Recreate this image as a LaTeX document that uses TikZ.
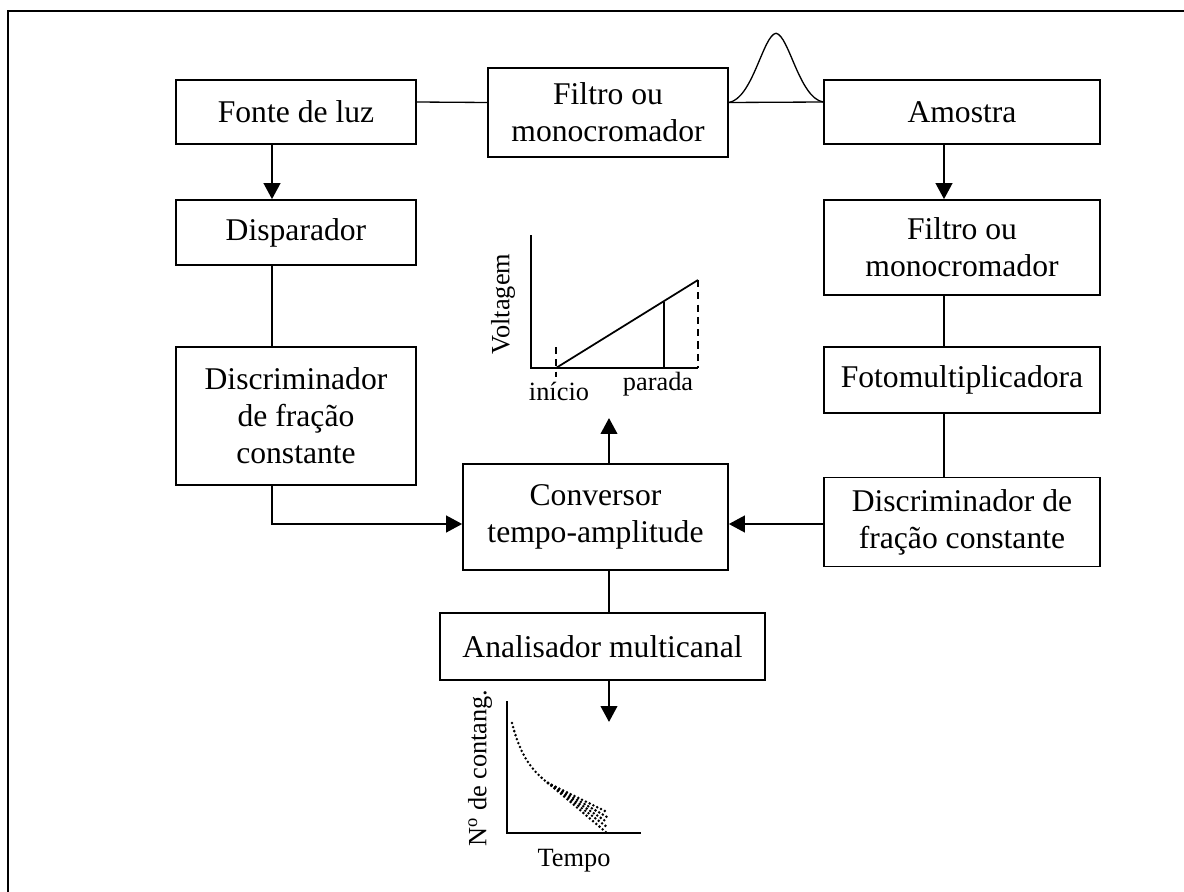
\documentclass[tikz,border=0pt]{standalone}
\usepackage{fontspec}
\setmainfont{Liberation Serif}
\usetikzlibrary{arrows.meta, calc}

\begin{document}
\begin{tikzpicture}[x=0.02cm, y=-0.02cm, >={Triangle[length=3.2mm, width=3.3mm]},
      caixa/.style={draw, line width=0.95pt, align=center, inner sep=2pt,
        font=\fontsize{18}{21}\selectfont},
      linha/.style={line width=0.75pt},
      seta/.style={->, line width=1.4pt},
      eixo/.style={line width=1pt},
      tracejado/.style={line width=1pt, dash pattern=on 4pt off 3pt},
      pontilhado/.style={line width=1.6pt, line cap=round, dash pattern=on 0pt off 2.4pt},
      rotulo/.style={font=\fontsize{15}{17}\selectfont, inner sep=0pt}]
    \useasboundingbox (0,0) rectangle (1184,892);
    \draw[line width=1.2pt] (8,892) -- (8,11) -- (1184,11);
    % caixas
    \node[caixa, minimum width=4.8cm, minimum height=1.28cm] (fonte) at (296,112) {Fonte de luz};
    \node[caixa, minimum width=4.8cm, minimum height=1.78cm] (filtroA) at (608,112.5) {Filtro ou\\ monocromador};
    \node[caixa, minimum width=5.52cm, minimum height=1.28cm] (amostra) at (962,112) {Amostra};
    \node[caixa, minimum width=4.8cm, minimum height=1.3cm] (disparador) at (296,232.5) {Disparador};
    \node[caixa, minimum width=4.8cm, minimum height=2.76cm] (discrA) at (296,416) {Discriminador\\ de fração\\ constante};
    \node[caixa, minimum width=5.52cm, minimum height=1.9cm] (filtroB) at (962,247.5) {Filtro ou\\ monocromador};
    \node[caixa, minimum width=5.52cm, minimum height=1.32cm] (fotomult) at (962,380) {Fotomultiplicadora};
    \node[caixa, minimum width=5.52cm, minimum height=1.78cm] (discrB) at (962,522) {Discriminador de\\ fração constante};
    \node[caixa, minimum width=5.3cm, minimum height=2.12cm] (conversor) at (595.5,517) {Conversor\\ tempo-amplitude};
    \node[caixa, minimum width=6.5cm, minimum height=1.34cm] (analisador) at (602.5,646.5) {Analisador multicanal};
    \coordinate (colE) at (272,0);
    \coordinate (colD) at (944,0);
    \coordinate (colM) at (609,0);
    \coordinate (linhaC) at (0,524);
    \coordinate (pontaV) at (609,418);
    \coordinate (pontaC) at (609,722);
    % ligacoes
    \draw[linha] ($(fonte.east)+(0,-10)$) -- ($(filtroA.west)+(0,-10)$);
    \draw[linha] ($(filtroA.east)+(0,-10)$) -- coordinate (pico) ($(amostra.west)+(0,-10)$);
    \draw[linha] ($(filtroA.east)+(0,-10)$) .. controls +(24,-4) and +(-13,2) .. ($(pico)+(0,-69)$)
      .. controls +(13,2) and +(-24,-4) .. ($(amostra.west)+(0,-10)$);
    \draw[seta] (fonte.south -| colE) -- (disparador.north -| colE);
    \draw[linha] (disparador.south -| colE) -- (discrA.north -| colE);
    \draw[seta] (discrA.south -| colE) -- (colE |- linhaC) -- (conversor.west |- linhaC);
    \draw[seta] (amostra.south -| colD) -- (filtroB.north -| colD);
    \draw[linha] (filtroB.south -| colD) -- (fotomult.north -| colD);
    \draw[linha] (fotomult.south -| colD) -- (discrB.north -| colD);
    \draw[seta] (discrB.west |- linhaC) -- (conversor.east |- linhaC);
    \draw[seta] (conversor.north -| colM) -- (pontaV);
    \draw[linha] (conversor.south -| colM) -- (analisador.north -| colM);
    \draw[seta] (analisador.south -| colM) -- (pontaC);
    % grafico da voltagem
    \draw[eixo] (531,235) -- (531,368) -- (698,368);
    \draw[tracejado] (556,347) -- (556,377);
    \draw[eixo] (556,368) -- (698,280);
    \draw[eixo] (664,302) -- (664,368);
    \draw[tracejado] (698,280) -- (698,368);
    \node[rotulo, rotate=90] (voltagem) at (503,304) {Voltagem};
    \node[rotulo, anchor=base] (inicio) at (559,400) {início};
    \node[rotulo, anchor=base] (parada) at (658,390) {parada};
    % grafico das contagens
    \draw[eixo] (507,701) -- (507,833) -- (641,833);
    \draw[pontilhado] (512,723) .. controls (519,750) and (528,768) .. (548,783);
    \foreach \fy in {812,817,822,827,833}
      \draw[pontilhado] (548,783) -- (607,\fy);
    \node[rotulo, rotate=90] (contagens) at (480,768) {N\textsuperscript{o} de contang.};
    \node[rotulo, anchor=base] (tempo) at (574,866) {Tempo};
  \end{tikzpicture}
\end{document}
